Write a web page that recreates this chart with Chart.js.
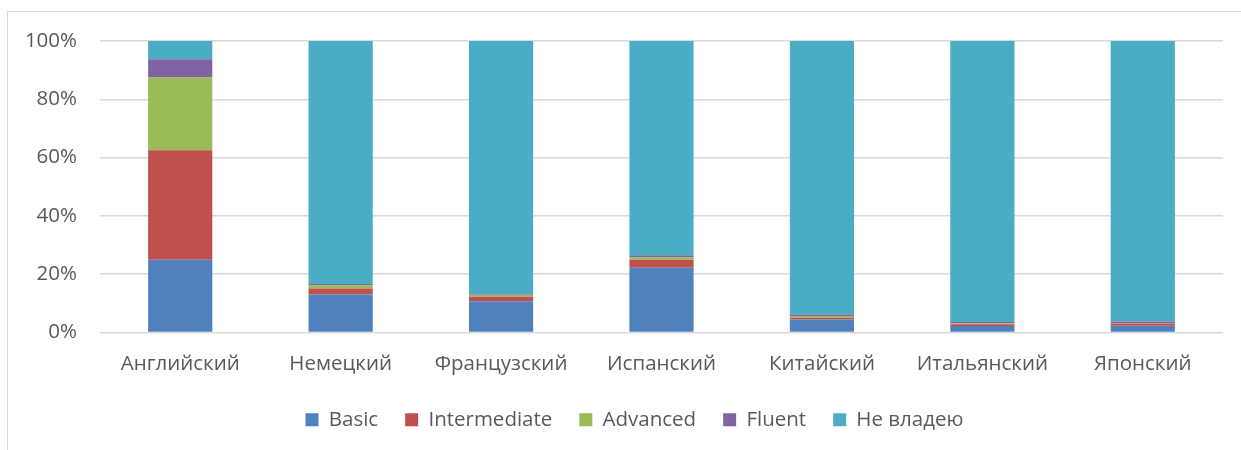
<!DOCTYPE HTML>
<html>
<head>
    <meta charset="UTF-8">
    <title>Languages</title>
    <script src="https://cdn.jsdelivr.net/npm/chart.js"></script>
    <style>
        html, body { margin: 0; padding: 0; background: #fff; }
        #wrap { position: relative; width: 1241px; height: 450px; overflow: hidden; }
        #frame { position: absolute; left: 7px; top: 11px; width: 1300px; height: 500px; border: 1px solid #d9d9d9; box-sizing: border-box; }
        canvas { position: absolute; left: 0; top: 0; }
    </style>
</head>
<body>
    <div id="wrap">
        <div id="frame"></div>
        <canvas id="myChart" width="1241" height="450"></canvas>
    </div>
    <script>
        var languages = ['Английский', 'Немецкий', 'Французский', 'Испанский', 'Китайский', 'Итальянский', 'Японский'];
        var basic        = [25,   13,   10.7, 22.2, 4.5, 2.2, 2.3];
        var intermediate = [37.5, 2.1,  1.6,  2.7,  0.6, 0.6, 0.8];
        var advanced     = [25,   1.0,  0.6,  0.8,  0.6, 0.4, 0.2];
        var fluent       = [6.25, 0.5,  0.1,  0.8,  0.5, 0.4, 0.5];
        var none         = [6.25, 83.4, 87.0, 73.5, 93.8, 96.4, 96.2];
        var yTicks = [0, 20, 40, 60, 80, 100];

        var font = { family: 'Open Sans', size: 20.5 };

        // legend in the original sits a bit right of the plot centre
        var shiftLegend = {
            id: 'shiftLegend',
            beforeDraw: function (chart) {
                var lg = chart.legend;
                if (lg && !lg._shifted) {
                    lg.left += 23;
                    lg.right += 23;
                    lg._shifted = true;
                }
            }
        };

        var ctx = document.getElementById('myChart').getContext('2d');
        var chart = new Chart(ctx, {
            type: 'bar',
            data: {
                labels: languages,
                datasets: [
                    { label: 'Basic', data: basic, backgroundColor: '#4F81BD' },
                    { label: 'Intermediate', data: intermediate, backgroundColor: '#C0504D' },
                    { label: 'Advanced', data: advanced, backgroundColor: '#9BBB59' },
                    { label: 'Fluent', data: fluent, backgroundColor: '#8064A2' },
                    { label: 'Не владею', data: none, backgroundColor: '#4BACC6' }
                ]
            },
            plugins: [shiftLegend],
            options: {
                responsive: false,
                animation: false,
                layout: { padding: { left: 0, right: 18, top: 41, bottom: 10 } },
                datasets: { bar: { categoryPercentage: 0.8, barPercentage: 0.5 } },
                plugins: {
                    tooltip: { enabled: false },
                    legend: {
                        position: 'bottom',
                        labels: {
                            color: '#595959', font: font,
                            boxWidth: 13, boxHeight: 13, padding: 27
                        }
                    }
                },
                scales: {
                    x: {
                        stacked: true,
                        afterFit: function (s) { s.height = 50; },
                        grid: { display: false },
                        border: { display: false },
                        ticks: { color: '#595959', font: font, padding: 11, maxRotation: 0 }
                    },
                    y: {
                        stacked: true,
                        min: 0, max: 100,
                        afterFit: function (s) { s.width = 100; },
                        afterBuildTicks: function (s) { s.ticks = yTicks.map(v => ({ value: v })); },
                        grid: { color: '#d9d9d9', lineWidth: 1.5, drawTicks: false },
                        border: { display: false },
                        ticks: {
                            color: '#595959', font: font, padding: 23,
                            callback: v => v + '%'
                        }
                    }
                }
            }
        });
    </script>
</body>
</html>
